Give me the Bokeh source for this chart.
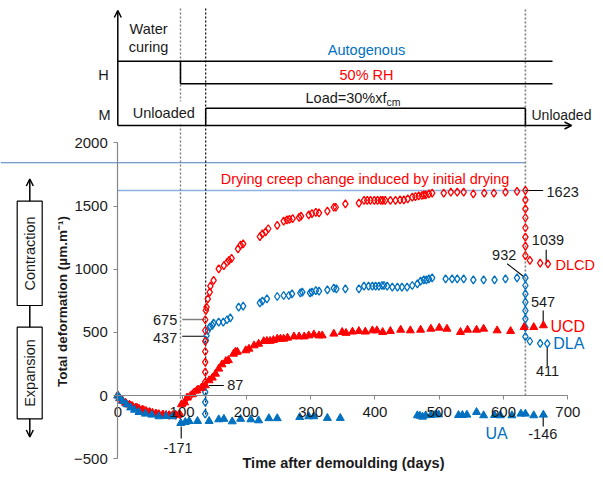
import math
from bokeh.plotting import figure
from bokeh.models import Range1d, LinearAxis, FixedTicker, Label, Arrow, OpenHead
from bokeh.embed import file_html
from bokeh.resources import INLINE

# ---------------- data ----------------
ua_day = [0, 3, 8, 14, 20, 26, 33, 43, 53, 64, 75, 85, 98, 105, 111, 124, 142, 157, 165, 178,
          191, 207, 219, 235, 248, 283, 297, 305, 326, 346, 466, 470, 474, 479, 487, 494, 499, 530, 536, 543,
          558, 569, 586, 595, 613, 627, 634, 647, 662]
ua_val = [0, -20, -45, -70, -95, -113, -131, -144, -152, -165, -163, -165, -218, -210, -202, -202, -202, -189, -185, -205,
          -185, -189, -197, -180, -180, -171, -165, -165, -178, -178, -157, -160, -168, -157, -155, -150, -150, -155, -155, -152,
          -131, -157, -155, -157, -157, -144, -144, -157, -152]

ucd_day = [0, 3, 7, 12, 18, 23, 28, 33, 38, 44, 49, 54, 59, 64, 70, 75, 80, 85, 90, 95,
           99, 104, 108, 116, 123, 130, 136, 142, 147, 152, 157, 162, 168, 172, 180, 183, 186, 199, 204, 212,
           219, 227, 232, 237, 242, 248, 253, 258, 264, 274, 282, 290, 297, 305, 313, 318, 336, 349, 355, 365,
           375, 385, 396, 403, 412, 424, 440, 455, 471, 487, 500, 512, 533, 544, 558, 569, 590, 611, 632, 647, 662]
ucd_val = [0, -22, -39, -58, -72, -85, -95, -105, -112, -122, -131, -137, -144, -148, -152, -154, -157, -156, -152, -150,
           -70, -55, -17, 9, 40, 60, 80, 120, 141, 172, 212, 246, 272, 280, 330, 346, 346, 357, 370, 396,
           409, 430, 432, 432, 438, 449, 449, 449, 457, 467, 467, 467, 475, 483, 475, 475, 489, 502, 495, 505,
           510, 505, 515, 515, 502, 510, 520, 515, 520, 528, 536, 528, 502, 520, 520, 528, 515, 510, 541, 541, 555]

dlcd_day = [0, 5, 12, 20, 30, 40, 50, 60, 70, 80, 90, 97, 104, 108, 113, 119, 125, 131,
            136, 136, 136, 136, 136, 136, 136, 137, 138, 140, 143, 144, 149, 157, 165, 170, 173, 177,
            187, 191, 195, 221, 225, 230, 234, 248, 258, 263, 267, 272, 282, 285, 297, 302, 308, 313,
            326, 336, 339, 354, 375, 383, 388, 393, 399, 404, 409, 412, 416, 424, 432, 439, 445, 451,
            458, 463, 468, 473, 476, 479, 484, 489, 507, 518, 528, 538, 553, 570, 585, 603, 621,
            634, 634, 634, 634, 634, 634, 634, 634, 641, 657, 669]
dlcd_val = [0, -30, -58, -78, -95, -112, -130, -142, -148, -155, -155, -150, -55, -13, 0, 27, 50, 68,
            106, 185, 264, 349, 430, 515, 600, 675, 700, 766, 818, 866, 911, 1003, 1029, 1055, 1070, 1085,
            1161, 1190, 1200, 1258, 1280, 1295, 1320, 1346, 1380, 1390, 1395, 1400, 1410, 1420, 1430, 1440, 1450, 1445,
            1460, 1490, 1490, 1517, 1522, 1544, 1544, 1544, 1544, 1544, 1544, 1544, 1544, 1544, 1544, 1549, 1549, 1557,
            1570, 1575, 1580, 1583, 1588, 1588, 1596, 1601, 1601, 1609, 1609, 1609, 1596, 1601, 1601, 1609, 1615,
            1623, 1549, 1478, 1407, 1328, 1253, 1182, 1108, 1069, 1048, 1043]

dla_day = [136, 136, 136, 137, 138, 140, 143, 147, 149, 157, 164, 170, 175, 188, 195, 221, 225, 232,
           248, 258, 266, 271, 284, 287, 299, 302, 308, 313, 326, 336, 340, 354, 375, 383, 390, 396,
           401, 406, 411, 414, 419, 427, 435, 442, 450, 458, 466, 471, 476, 480, 484, 489, 510, 520,
           528, 538, 553, 569, 586, 603, 621, 634, 634, 634, 634, 634, 634, 634, 634, 641, 657, 668]
dla_val = [-144, -52, 27, 437, 475, 515, 541, 555, 573, 581, 581, 600, 615, 700, 707, 734, 747, 766,
           784, 792, 792, 805, 813, 818, 813, 818, 831, 826, 837, 850, 845, 845, 845, 866, 866, 866,
           866, 866, 871, 871, 866, 858, 858, 858, 858, 871, 884, 905, 916, 916, 924, 932, 924, 924,
           924, 924, 916, 916, 916, 924, 932, 932, 871, 805, 739, 673, 607, 540, 467, 430, 413, 411]

x_ticks = [0, 100, 200, 300, 400, 500, 600, 700]
y_ticks = [-500, 0, 500, 1000, 1500, 2000]
drying_day, loading_day, unloading_day = 97.5, 136.7, 634
upper_ref, initial_drying_ref = 1842, 1623

# ---------------- layout helpers (reference pixel -> data) ----------------
X0, SX, Y0, SY = 117.3, 0.6429, 395.1, 0.1264
def D(rx):
    return (rx - X0) / SX
def V(ry):
    return (Y0 - ry) / SY

FONT = "Liberation Sans"
RED = "#FF0000"
BLUE = "#0070C0"
INK = "#1a1a1a"

W, H = 595, 471
p = figure(width=W, height=H, x_range=Range1d(D(0), D(W)), y_range=Range1d(V(H), V(0)),
           x_axis_type=None, y_axis_type=None, toolbar_location=None, output_backend="svg",
           min_border=0, outline_line_color=None, title=None)
p.background_fill_color = "white"
p.border_fill_color = "white"

# axes
yax = LinearAxis(fixed_location=0, bounds=(-500, 2000), ticker=FixedTicker(ticks=y_ticks))
xax = LinearAxis(fixed_location=0, bounds=(0, 700), ticker=FixedTicker(ticks=x_ticks))
for ax in (xax, yax):
    ax.axis_line_color = "#868686"
    ax.axis_line_width = 1.2
    ax.major_tick_line_color = "#868686"
    ax.major_tick_in = 0
    ax.major_tick_out = 4
    ax.minor_tick_line_color = None
    ax.major_label_text_font = FONT
    ax.major_label_text_font_size = "15px"
    ax.major_label_text_color = INK
yax.major_label_standoff = 6
xax.major_label_standoff = 7
p.add_layout(yax, "left")
p.add_layout(xax, "below")

# horizontal reference lines
p.segment(x0=[D(0)], y0=[upper_ref], x1=[unloading_day], y1=[upper_ref], line_color="#4A7EBB", line_width=1.2)
p.segment(x0=[0], y0=[initial_drying_ref], x1=[unloading_day], y1=[initial_drying_ref], line_color="#8DB3E2", line_width=1.6)

# vertical event lines
p.segment(x0=[drying_day], y0=[V(8)], x1=[drying_day], y1=[-40], line_color="#7f7f7f", line_width=1.4, line_dash="2 2")
p.segment(x0=[unloading_day], y0=[V(9)], x1=[unloading_day], y1=[-15], line_color="#7f7f7f", line_width=1.6, line_dash="2 2")
p.segment(x0=[loading_day], y0=[V(8)], x1=[loading_day], y1=[-150], line_color="#000000", line_width=1.2, line_dash="2 2")

# schematic (top panel)
SCH = dict(line_color="black", line_width=1.5)
yH1, yH2, yM1, yBase = V(60.7), V(83.3), V(107.7), V(125)
p.segment(x0=[0, drying_day, drying_day, loading_day, loading_day, unloading_day],
          y0=[yH1, yH1, yH2, yM1, yBase, yM1],
          x1=[D(552), drying_day, D(552), unloading_day, loading_day, unloading_day],
          y1=[yH1, yH2, yH2, yM1, yM1, yBase], **SCH)
p.add_layout(Arrow(end=OpenHead(size=7, line_width=1.5), x_start=0, y_start=yBase, x_end=0, y_end=V(10),
                   line_width=1.5, line_color="black"))
p.add_layout(Arrow(end=OpenHead(size=7, line_width=1.5), x_start=0, y_start=yBase, x_end=D(571), y_end=yBase,
                   line_width=1.5, line_color="black"))

# left: contraction / expansion boxes
p.quad(left=[D(16.7), D(16.7)], right=[D(41.7), D(41.7)], top=[V(200.7), V(326.7)], bottom=[V(305), V(418.3)],
       fill_color="white", line_color="black", line_width=1.2)
p.segment(x0=[D(29.3)], y0=[V(305)], x1=[D(29.3)], y1=[V(326.7)], line_color="black", line_width=1.5)
p.add_layout(Arrow(end=OpenHead(size=7, line_width=1.5), x_start=D(29.3), y_start=V(200.7), x_end=D(29.3), y_end=V(178.5),
                   line_width=1.5, line_color="black"))
p.add_layout(Arrow(end=OpenHead(size=7, line_width=1.5), x_start=D(29.3), y_start=V(418.3), x_end=D(29.3), y_end=V(436.5),
                   line_width=1.5, line_color="black"))

# leader lines
p.segment(x0=[unloading_day, D(545.7), D(506.7), D(542.7), D(546.7), D(542.7), D(180.7), D(208.3), D(181.7)],
          y0=[initial_drying_ref, V(249.3), V(263.3), V(310), V(346.7), V(411.7), V(426), V(385), V(335.7)],
          x1=[D(542.7), D(545.7), D(524), D(542.7), D(546.7), D(542.7), D(180.7), D(223.3), loading_day],
          y1=[initial_drying_ref, V(263.3), V(276.7), V(322.7), V(366), V(426), V(438), V(385), V(335.7)],
          line_color="black", line_width=1.1)
p.segment(x0=[D(181.7)], y0=[V(319)], x1=[loading_day], y1=[V(319)], line_color="#7f7f7f", line_width=1.6)

# data series
p.scatter(dla_day, dla_val, marker="diamond", size=8, line_color=BLUE, fill_color=None, line_width=1.3)
p.scatter(dlcd_day, dlcd_val, marker="diamond", size=8, line_color=RED, fill_color=None, line_width=1.3)
p.scatter(ucd_day, ucd_val, marker="triangle", size=8, line_color=RED, fill_color=RED)
p.scatter(ua_day, ua_val, marker="triangle", size=8, line_color=BLUE, fill_color=BLUE)

# text
def lab(rx, ry, text, size="14.5px", color=INK, align="center", bold=False, angle=0.0, bg=None):
    l = Label(x=D(rx), y=V(ry), text=text, text_font=FONT, text_font_size=size, text_color=color,
              text_align=align, text_baseline="middle", angle=angle,
              text_font_style="bold" if bold else "normal")
    if bg is not None:
        l.background_fill_color = bg
        l.padding = 3
    p.add_layout(l)

lab(129, 28.3, "Water", align="left")
lab(128.3, 46.7, "curing", align="left")
lab(103, 74, "H")
lab(104, 114, "M")
lab(129.3, 112, "Unloaded", align="left", bg="white")
lab(366, 49, "Autogenous", color=BLUE)
lab(366, 74, "50% RH", color=RED)
lab(305, 97, "Load=30%xf", size="14.5px", align="left")
lab(386, 101, "cm", size="10.5px", align="left")
lab(531, 114.7, "Unloaded", size="14px", align="left")

lab(29.3, 253, "Contraction", angle=math.pi / 2)
lab(29.3, 372.5, "Expansion", angle=math.pi / 2)
lab(62, 301, "Total deformation (µm.m⁻¹)", size="13.5px", bold=True, angle=math.pi / 2)
lab(343, 462.5, "Time after demoulding (days)", size="14.5px", bold=True)

lab(364.5, 178.3, "Drying creep change induced by initial drying", color=RED)
lab(546, 191, "1623", align="left")
lab(547.5, 239.3, "1039")
lab(555, 264.3, "DLCD", size="14.5px", color=RED, align="left")
lab(503.7, 254.3, "932")
lab(542.5, 301.7, "547")
lab(550, 326, "UCD", size="16px", color=RED, align="left")
lab(552.7, 342.7, "DLA", size="16px", color=BLUE, align="left")
lab(547, 370.7, "411")
lab(542.3, 433.3, "-146")
lab(485, 433.3, "UA", size="16px", color=BLUE, align="left")
lab(177.5, 447.7, "-171")
lab(226.7, 384, "87", align="left")
lab(176.7, 319.3, "675", align="right")
lab(176.7, 337.3, "437", align="right")

open("out.html", "w").write(file_html(p, INLINE))
